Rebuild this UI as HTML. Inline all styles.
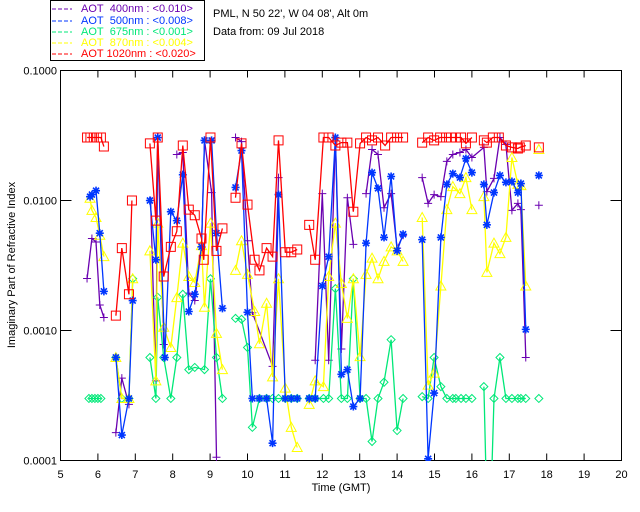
<!DOCTYPE html>
<html><head><meta charset="utf-8"><style>
body{margin:0;background:#fff;}
svg{display:block;font-family:"Liberation Sans",sans-serif;}
</style></head><body>
<svg id="chart" width="640" height="512" viewBox="0 0 640 512" xmlns="http://www.w3.org/2000/svg">
<rect width="640" height="512" fill="#fff"/>
<g>
<rect x="50.5" y="0.5" width="154" height="60" fill="none" stroke="#000" stroke-width="1"/>
<g font-size="11">
<line x1="52" y1="9" x2="72" y2="9" stroke="#6a00b0" stroke-dasharray="4,2"/><text x="81" y="12" fill="#6a00b0">AOT&#160;&#160;400nm : &lt;0.010&gt;</text>
<line x1="52" y1="21" x2="72" y2="21" stroke="#0036ff" stroke-dasharray="4,2"/><text x="81" y="24" fill="#0036ff">AOT&#160;&#160;500nm : &lt;0.008&gt;</text>
<line x1="52" y1="32" x2="72" y2="32" stroke="#00e878" stroke-dasharray="4,2"/><text x="81" y="35" fill="#00e878">AOT&#160;&#160;675nm : &lt;0.001&gt;</text>
<line x1="52" y1="43" x2="72" y2="43" stroke="#ffff00" stroke-dasharray="4,2"/><text x="81" y="46" fill="#ffff00">AOT&#160;&#160;870nm : &lt;0.004&gt;</text>
<line x1="52" y1="54" x2="72" y2="54" stroke="#ff0000" stroke-dasharray="4,2"/><text x="81" y="57" fill="#ff0000">AOT 1020nm : &lt;0.020&gt;</text>
</g></g>
<text x="213" y="17" font-size="11">PML, N 50 22', W 04 08', Alt 0m</text>
<text x="213" y="35" font-size="11">Data from: 09 Jul 2018</text>
<rect x="60.5" y="70.5" width="561" height="390" fill="none" stroke="#000"/>
<g id="axes"></g>
<defs><clipPath id="pc"><rect x="60" y="70" width="562" height="391"/></clipPath></defs>
<g id="marks" clip-path="url(#pc)"></g>
<text x="341" y="491" font-size="11" text-anchor="middle">Time (GMT)</text>
<text transform="translate(15,265) rotate(-90)" font-size="11" text-anchor="middle">Imaginary Part of Refractive Index</text>
</svg>
<script>
const xTicks=[5,6,7,8,9,10,11,12,13,14,15,16,17,18,19,20];
const yTicks=[0.1,0.01,0.001,0.0001];
const yTickLabels=["0.1000","0.0100","0.0010","0.0001"];
const t400=[5.71,5.84,5.95,6.05,6.16,null,6.48,6.64,6.83,null,7.41,7.55,7.60,7.76,null,8.11,8.27,8.43,8.59,8.77,8.85,9.04,9.17,null,9.68,9.84,10.0,10.13,10.67,10.83,null,11.81,12.0,12.17,12.35,12.51,12.67,12.83,null,13.17,13.33,13.49,13.65,13.84,14.0,14.16,null,14.67,14.83,14.99,15.17,15.33,15.49,15.68,15.84,16.0,16.32,16.40,16.59,16.75,16.91,17.07,17.23,17.31,17.44,null,17.79];
const v400=[0.00251,0.0051,0.0048,0.00157,0.00126,null,0.000164,0.00043,0.00027,null,0.0100,0.00041,0.0305,0.00078,null,0.0226,0.0234,0.00194,0.0017,0.0044,0.029,0.0115,0.000106,null,0.0305,0.0284,0.0049,0.00137,0.00053,0.0150,null,0.00059,0.0113,0.00059,0.0305,0.00072,0.0105,0.0046,null,0.0113,0.0247,0.0226,0.0088,0.0113,0.0043,0.0054,null,0.0150,0.0095,0.0111,0.0107,0.0200,0.0226,0.0234,0.0247,0.0214,0.0256,0.0117,0.0148,0.0305,0.027,0.0084,0.0095,0.0085,0.00062,null,0.0092];
const t500=[5.79,5.84,5.95,6.05,6.16,null,6.48,6.64,6.83,6.93,null,7.39,7.55,7.60,7.79,7.95,8.11,8.27,8.43,8.59,8.77,8.85,9.04,9.17,9.33,null,9.68,9.84,10.0,10.13,10.32,10.51,10.67,10.83,11.01,11.17,11.33,null,11.65,11.81,12.0,12.17,12.35,12.51,12.67,12.83,13.01,13.17,13.33,13.49,13.65,13.84,14.0,14.16,null,14.67,14.83,14.99,15.17,15.33,15.49,15.68,15.84,16.0,null,16.32,16.40,16.59,16.75,16.91,17.07,17.23,17.31,17.44,null,17.79];
const v500=[0.0107,0.0111,0.0119,0.0056,0.0020,null,0.00062,0.000157,0.0003,0.0017,null,0.0100,0.0035,0.0305,0.00062,0.0082,0.0070,0.0158,0.0014,0.0019,0.0044,0.029,0.029,0.0056,0.00148,null,0.0126,0.0242,0.00138,0.0003,0.0003,0.0003,0.000136,0.0111,0.0003,0.0003,0.0003,null,0.0003,0.0003,0.0022,0.0037,0.0305,0.00046,0.0005,0.00026,0.0003,0.0047,0.0164,0.0124,0.0052,0.0153,0.0041,0.0055,null,0.005,0.000103,0.00033,0.0052,0.0133,0.0161,0.015,0.021,0.0164,null,0.0133,0.0065,0.0115,0.0156,0.0138,0.014,0.0115,0.0135,0.00102,null,0.0156];
const t675=[5.76,5.84,5.92,6.0,6.08,null,6.48,6.64,6.83,6.93,null,7.39,7.55,7.60,7.76,7.95,8.11,8.27,8.43,8.59,8.85,9.01,9.17,9.33,null,9.68,9.84,10.0,10.13,10.32,10.51,10.67,10.83,11.01,11.17,11.33,null,11.65,11.81,12.03,12.17,12.35,12.51,12.67,12.83,13.01,13.17,13.33,13.49,13.65,13.84,14.0,14.16,null,14.67,14.83,14.99,15.17,15.33,15.49,15.57,15.71,15.84,16.0,null,16.32,16.40,16.50,16.59,16.75,16.91,17.07,17.23,17.31,17.44,null,17.79];
const v675=[0.0003,0.0003,0.0003,0.0003,0.0003,null,0.00062,0.0003,0.0003,0.0025,null,0.00062,0.0003,0.0018,0.00062,0.0003,0.00062,0.0019,0.0005,0.00052,0.0005,0.0025,0.00062,0.0003,null,0.00124,0.00122,0.00074,0.00018,0.0003,0.0003,0.0003,0.0003,0.0003,0.0003,0.0003,null,0.0003,0.0003,0.0003,0.0003,0.0021,0.0003,0.0003,0.0025,0.0003,0.0003,0.00014,0.0003,0.0004,0.00085,0.00017,0.0003,null,0.00031,0.0003,0.00062,0.00037,0.0003,0.0003,0.0003,0.0003,0.0003,0.0003,null,0.00037,0.00004,0.00004,0.0003,0.00062,0.0003,0.0003,0.0003,0.0003,0.0003,null,0.0003];
const t870=[5.79,5.84,5.95,6.05,6.16,null,6.48,6.64,6.83,6.93,null,7.39,7.55,7.60,7.76,7.95,8.11,8.27,8.43,8.59,8.77,8.85,9.01,9.17,9.33,null,9.68,9.84,10.0,10.19,10.32,10.51,10.67,10.83,11.01,11.17,11.33,null,11.65,11.81,12.03,12.17,12.35,12.51,12.67,12.83,13.01,13.17,13.33,13.49,13.65,13.84,14.0,14.16,null,14.67,14.83,14.99,15.17,15.33,15.49,15.68,15.84,16.0,null,16.32,16.40,16.59,16.75,16.91,17.07,17.23,17.31,17.44,null,17.79];
const v870=[0.0104,0.0084,0.0074,0.0054,0.0037,null,0.00062,0.0003,0.0003,0.0025,null,0.0041,0.00041,0.0067,0.00106,0.00074,0.00179,0.0047,0.0026,0.00234,0.0045,0.00151,0.0067,0.00095,0.0005,null,0.0029,0.0049,0.0027,0.0014,0.00079,0.00162,0.00044,0.0025,0.00036,0.00018,0.000126,null,0.00027,0.00041,0.00037,0.0026,0.0067,0.0023,0.00124,0.0025,0.00063,0.0027,0.0036,0.0025,0.0034,0.0044,0.0041,0.0034,null,0.0074,0.00038,0.00047,0.0022,0.0085,0.0128,0.0113,0.015,0.0085,null,0.0107,0.0028,0.0047,0.0039,0.0052,0.0214,0.0133,0.013,0.0022,null,0.0247];
const t1020=[5.71,5.80,5.89,5.98,6.08,6.16,null,6.48,6.64,6.83,6.91,null,7.39,7.55,7.60,7.76,7.95,8.11,8.27,8.43,8.59,8.77,8.83,9.01,9.17,9.33,null,9.68,9.84,10.0,10.19,10.32,10.51,10.67,10.83,11.01,11.17,11.33,null,11.65,11.81,12.03,12.17,12.35,12.51,12.67,12.83,13.01,13.17,13.33,13.49,13.68,13.84,14.0,14.16,null,14.67,14.83,14.99,15.15,15.31,15.44,15.57,15.71,15.84,16.0,null,16.32,16.40,16.56,16.72,16.91,17.07,17.23,17.28,17.44,null,17.79];
const v1020=[0.0305,0.0305,0.0305,0.0305,0.0305,0.026,null,0.0013,0.0043,0.0019,0.0100,null,0.0275,0.0070,0.0305,0.0026,0.0044,0.0058,0.0265,0.0085,0.0077,0.0051,0.0035,0.0305,0.0041,0.0061,null,0.0105,0.0275,0.0093,0.0035,0.0029,0.0043,0.0037,0.029,0.0040,0.0040,0.0042,null,0.0065,0.0035,0.0305,0.0305,0.0265,0.0279,0.0279,0.0082,0.0275,0.0305,0.029,0.0305,0.0265,0.0305,0.0305,0.0305,null,0.0279,0.0305,0.029,0.0305,0.0305,0.0305,0.0305,0.0305,0.0275,0.0305,null,0.029,0.0279,0.0305,0.0305,0.0265,0.0256,0.0251,0.0256,0.0265,null,0.0256];

const NS="http://www.w3.org/2000/svg";
const X0=60.5,X1=621.5,Y0=70.5,Y1=460.5;
function sx(t){return X0+(t-5)/15*(X1-X0);}
function sy(v){return Y0+(-1-Math.log10(v))/3*(Y1-Y0);}
function mk(tag,attrs,parent){const e=document.createElementNS(NS,tag);for(const k in attrs)e.setAttribute(k,attrs[k]);parent.appendChild(e);return e;}
const axes=document.getElementById('axes');
xTicks.forEach(t=>{
  const x=sx(t);
  const b=mk('line',{x1:x,y1:Y1,x2:x,y2:Y1-7,stroke:'#000'},axes);
  
  
  const tp=mk('line',{x1:x,y1:Y0,x2:x,y2:Y0+7,stroke:'#000'},axes);
  
  
  const l=mk('text',{x:x,y:478,'font-size':11,'text-anchor':'middle'},axes);
  l.textContent=t;
  
  
});
yTicks.forEach((v,i)=>{
  const y=sy(v);
  const a=mk('line',{x1:X0,y1:y,x2:X0+11,y2:y,stroke:'#000'},axes);
  
  
  const r=mk('line',{x1:X1,y1:y,x2:X1-11,y2:y,stroke:'#000'},axes);
  
  
  const l=mk('text',{x:57,y:y+4,'font-size':11,'text-anchor':'end'},axes);
  l.textContent=yTickLabels[i];
  
  
});
const marks=document.getElementById('marks');
function marker(type,x,y,c,g){
  let d='';
  if(type==='plus')d=`M${x-4},${y}H${x+4}M${x},${y-4}V${y+4}`;
  else if(type==='star')d=`M${x-4},${y}H${x+4}M${x},${y-4}V${y+4}M${x-3},${y-3}L${x+3},${y+3}M${x-3},${y+3}L${x+3},${y-3}`;
  else if(type==='diamond')d=`M${x},${y-4}L${x+4},${y}L${x},${y+4}L${x-4},${y}Z`;
  else if(type==='tri')d=`M${x},${y-5}L${x+5},${y+4}L${x-5},${y+4}Z`;
  else if(type==='square')d=`M${x-4.5},${y-4.5}h9v9h-9Z`;
  const p=mk('path',{d:d,fill:'none',stroke:c,'stroke-width':type==='star'?1.6:1},g);
  
  
}
function series(ts,vs,c,type,name){
  const g=mk('g',{},marks);
  
  
  let d='',pen=false;
  for(let i=0;i<ts.length;i++){
    if(ts[i]===null||vs[i]===null){pen=false;continue;}
    d+=(pen?'L':'M')+sx(ts[i]).toFixed(1)+','+sy(vs[i]).toFixed(1);pen=true;
  }
  const p=mk('path',{d:d,fill:'none',stroke:c,'stroke-width':1.3},g);
  
  
  for(let i=0;i<ts.length;i++){
    if(ts[i]===null||vs[i]===null)continue;
    marker(type,sx(ts[i]),sy(vs[i]),c,g);
  }
}
series(t400,v400,'#6a00b0','plus','series-400nm');
series(t675,v675,'#00e878','diamond','series-675nm');
series(t870,v870,'#ffff00','tri','series-870nm');
series(t500,v500,'#0036ff','star','series-500nm');
series(t1020,v1020,'#ff0000','square','series-1020nm');
</script>
</body></html>
